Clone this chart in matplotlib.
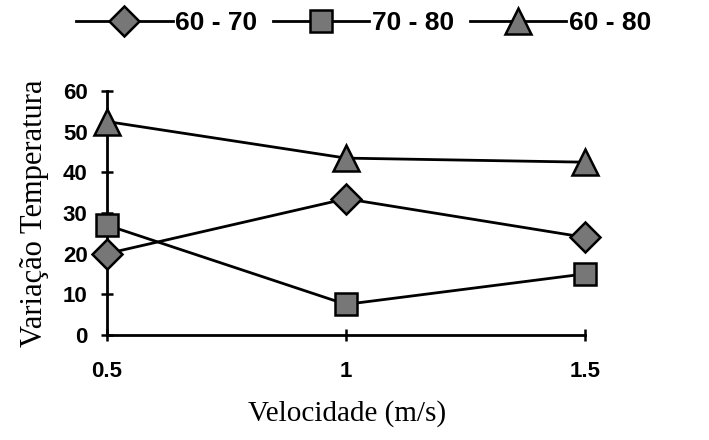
import matplotlib
matplotlib.use("Agg")
import matplotlib.pyplot as plt

velocidade = [0.5, 1.0, 1.5]
serie_60_70 = [20, 33.5, 24]
serie_70_80 = [27, 7.5, 15]
serie_60_80 = [52.5, 43.5, 42.5]
labels = ["60 - 70", "70 - 80", "60 - 80"]

fig = plt.figure(figsize=(7.09, 4.40), dpi=100)
ax = fig.add_axes([0.151, 0.239, 0.674, 0.554])

mk = dict(color="black", lw=2, markerfacecolor="#777777",
          markeredgecolor="black", markeredgewidth=1.8, clip_on=False, zorder=3)
l1, = ax.plot(velocidade, serie_60_70, marker="D", markersize=15, **mk)
l2, = ax.plot(velocidade, serie_70_80, marker="s", markersize=16, **mk)
l3, = ax.plot(velocidade, serie_60_80, marker="^", markersize=19, **mk)

ax.set_xlim(0.5, 1.5)
ax.set_ylim(0, 60)
ax.set_xticks(velocidade)
ax.set_xticklabels(["0.5", "1", "1.5"])
ax.set_yticks(range(0, 61, 10))
for s in ["top", "right"]:
    ax.spines[s].set_visible(False)
for s in ["left", "bottom"]:
    ax.spines[s].set_linewidth(2)
ax.tick_params(direction="inout", length=8, width=1.8)
ax.tick_params(axis="y", pad=10)
ax.tick_params(axis="x", pad=15)
for t in ax.get_xticklabels() + ax.get_yticklabels():
    t.set_fontfamily("Liberation Sans")
    t.set_fontweight("bold")
    t.set_fontsize(16)

fig.text(0.49, 0.045, "Velocidade (m/s)", family="Liberation Serif", fontsize=21,
         ha="center", va="baseline")
ax.set_ylabel("Variação Temperatura", family="Liberation Serif", fontsize=22, labelpad=10)

fig.legend([l1, l2, l3], labels, loc="center", bbox_to_anchor=(0.513, 0.947),
           ncol=3, frameon=False, handlelength=3.65, handletextpad=0.1, columnspacing=0.6,
           prop=dict(family="Liberation Sans", weight="bold", size=19))

fig.savefig("out.png", dpi=100)
